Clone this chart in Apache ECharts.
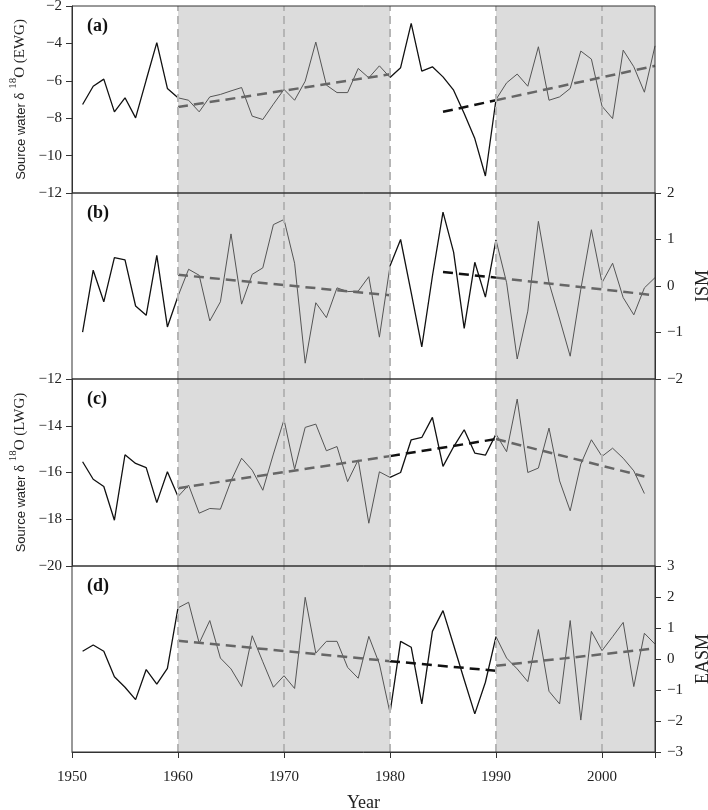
<!DOCTYPE html>
<html>
<head>
<meta charset="utf-8">
<script src="https://cdn.jsdelivr.net/npm/echarts@6/dist/echarts.min.js"></script>
<style>
  html, body { margin: 0; padding: 0; background: #fff; }
  #main { width: 708px; height: 810px; }
</style>
</head>
<body>
<div id="main"></div>
<script>
// years of the records
var years = [1951, 1952, 1953, 1954, 1955, 1956, 1957, 1958, 1959, 1960,
             1961, 1962, 1963, 1964, 1965, 1966, 1967, 1968, 1969, 1970,
             1971, 1972, 1973, 1974, 1975, 1976, 1977, 1978, 1979, 1980,
             1981, 1982, 1983, 1984, 1985, 1986, 1987, 1988, 1989, 1990,
             1991, 1992, 1993, 1994, 1995, 1996, 1997, 1998, 1999, 2000,
             2001, 2002, 2003, 2004, 2005];

// (a) source water d18O, EWG
var ewg = [-7.27, -6.29, -5.91, -7.66, -6.91, -7.98, -5.96, -3.96, -6.41, -6.91,
           -7.04, -7.66, -6.86, -6.73, -6.54, -6.36, -7.89, -8.07, -7.25, -6.46,
           -7.04, -6.02, -3.93, -6.23, -6.63, -6.63, -5.34, -5.84, -5.2, -5.82,
           -5.3, -2.93, -5.48, -5.25, -5.79, -6.5, -7.75, -9.09, -11.09, -7.0,
           -6.11, -5.64, -6.29, -4.18, -7.04, -6.86, -6.41, -4.41, -4.84, -7.36,
           -8.02, -4.36, -5.25, -6.61, -4.13];

// (b) ISM index
var ism = [-0.99, 0.34, -0.34, 0.61, 0.56, -0.43, -0.63, 0.66, -0.88, -0.22,
           0.36, 0.23, -0.75, -0.34, 1.12, -0.39, 0.25, 0.39, 1.32, 1.43,
           0.49, -1.66, -0.36, -0.68, -0.04, -0.12, -0.11, 0.2, -1.1, 0.43,
           1.0, -0.14, -1.31, 0.21, 1.59, 0.73, -0.91, 0.51, -0.24, 0.99,
           0.07, -1.57, -0.54, 1.39, 0.07, -0.71, -1.51, -0.07, 1.21, 0.07,
           0.49, -0.25, -0.62, -0.04, 0.18];

// (c) source water d18O, LWG (no 2005 value)
var lwg = [-15.54, -16.29, -16.6, -18.04, -15.24, -15.61, -15.79, -17.29, -15.97, -17.03,
           -16.54, -17.74, -17.54, -17.57, -16.36, -15.39, -15.9, -16.76, -15.21, -13.74,
           -15.86, -14.07, -13.93, -15.07, -14.89, -16.39, -15.46, -18.17, -15.97, -16.21,
           -16.0, -14.6, -14.5, -13.64, -15.74, -14.9, -14.17, -15.17, -15.26, -14.36,
           -15.11, -12.86, -16.0, -15.81, -14.1, -16.36, -17.64, -15.64, -14.6, -15.31,
           -14.96, -15.39, -15.93, -16.9, null];

// (d) EASM index
var easm = [0.25, 0.45, 0.25, -0.57, -0.91, -1.31, -0.34, -0.81, -0.3, 1.65,
            1.83, 0.51, 1.24, 0.03, -0.32, -0.89, 0.75, -0.09, -0.91, -0.54,
            -0.95, 1.99, 0.19, 0.57, 0.57, -0.27, -0.62, 0.73, -0.16, -1.74,
            0.57, 0.38, -1.45, 0.89, 1.56, 0.45, -0.67, -1.77, -0.75, 0.72,
            0.03, -0.32, -0.73, 0.95, -1.04, -1.45, 1.24, -1.97, 0.89, 0.27,
            0.72, 1.18, -0.89, 0.83, 0.48];

// linear trends: [start year, end year, start value, end value]
var ewgTrends = [[1960, 1980, -7.4, -5.65], [1985, 1990, -7.66, -7.04], [1990, 2005, -7.04, -5.2]];
var ismTrends = [[1960, 1980, 0.24, -0.2], [1985, 1990, 0.3, 0.18], [1990, 2005, 0.18, -0.2]];
var lwgTrends = [[1960, 1980, -16.67, -15.3], [1980, 1990, -15.3, -14.57], [1990, 2004, -14.57, -16.17]];
var easmTrends = [[1960, 1980, 0.59, -0.07], [1980, 1990, -0.07, -0.38], [1990, 2005, -0.22, 0.34]];

var shadeSpans = [[1960, 1980], [1990, 2005]];
var dashYears = [1960, 1970, 1980, 1990, 2000];
var segments = [[1951, 1960], [1960, 1980], [1980, 1990], [1990, 2005]];

var serif = '"Liberation Serif", "DejaVu Serif", serif';
var sans = '"Liberation Sans", Arial, sans-serif';

function inShade(a, b) {
    return shadeSpans.some(function (s) { return a >= s[0] && b <= s[1]; });
}
function pick(vals, from, to) {
    var out = [];
    for (var i = 0; i < years.length; i++) {
        if (years[i] >= from && years[i] <= to && vals[i] != null) out.push([years[i], vals[i]]);
    }
    return out;
}
function minus(v) { return String(v).replace('-', '\u2212'); }

var panels = [
    {vals: ewg, trends: ewgTrends, pos: 'left', min: -12, max: -2, interval: 2, label: '(a)',
     name: '{s|Source water }{d|\u03b4 }{u|18}{d|O (EWG)}'},
    {vals: ism, trends: ismTrends, pos: 'right', min: -2, max: 2, interval: 1, label: '(b)', name: 'ISM'},
    {vals: lwg, trends: lwgTrends, pos: 'left', min: -20, max: -12, interval: 2, label: '(c)',
     name: '{s|Source water }{d|\u03b4 }{u|18}{d|O (LWG)}'},
    {vals: easm, trends: easmTrends, pos: 'right', min: -3, max: 3, interval: 1, label: '(d)', name: 'EASM'}
];
var gridTops = [6, 193, 379, 566];
var gridHeights = [187, 186, 187, 186];

var chart = echarts.init(document.getElementById('main'));
var grids = [], xAxes = [], yAxes = [], series = [], graphics = [];

panels.forEach(function (p, i) {
    var last = i === panels.length - 1;
    grids.push({left: 72, right: 53, top: gridTops[i], height: gridHeights[i],
                outerBoundsMode: 'none', containLabel: false,
                show: true, borderColor: '#333', borderWidth: 1,
                backgroundColor: 'rgba(0,0,0,0)', z: 10});
    xAxes.push({
        type: 'value', gridIndex: i, min: 1950, max: 2005, interval: 10,
        axisLine: {show: last, onZero: false, lineStyle: {color: '#333'}},
        axisTick: {show: last, length: 6, lineStyle: {color: '#333'}},
        axisLabel: {show: last, fontFamily: serif, fontSize: 15, color: '#222', margin: 18,
                    formatter: function (v) { return v % 10 === 0 ? String(v) : ''; }},
        splitLine: {show: false},
        name: last ? 'Year' : '', nameLocation: 'middle', nameGap: 42,
        nameTextStyle: {fontFamily: serif, fontSize: 18, color: '#222'}
    });
    var left = p.pos === 'left';
    yAxes.push({
        type: 'value', gridIndex: i, position: p.pos, min: p.min, max: p.max, interval: p.interval,
        axisLine: {show: true, onZero: false, lineStyle: {color: '#333'}},
        axisTick: {show: true, length: 6, lineStyle: {color: '#333'}},
        axisLabel: {fontFamily: serif, fontSize: 15, color: '#222', margin: left ? 10 : 12, formatter: minus},
        splitLine: {show: false},
        name: p.name, nameLocation: 'middle', nameRotate: 90, nameGap: left ? 42 : 27,
        nameTextStyle: left ? {
            rich: {
                s: {fontFamily: sans, fontSize: 13, color: '#222', lineHeight: 20, verticalAlign: 'bottom'},
                d: {fontFamily: serif, fontSize: 15, color: '#222', lineHeight: 20, verticalAlign: 'bottom'},
                u: {fontFamily: serif, fontSize: 11, color: '#222', lineHeight: 20, verticalAlign: 'top'}
            }
        } : {fontFamily: serif, fontSize: 18, color: '#222'}
    });

    // shading and dashed year markers
    series.push({
        type: 'line', xAxisIndex: i, yAxisIndex: i, data: [], z: 1, silent: true,
        markArea: {silent: true, itemStyle: {color: '#dcdcdc'},
                   data: shadeSpans.map(function (s) { return [{xAxis: s[0]}, {xAxis: s[1]}]; })},
        markLine: {silent: true, symbol: 'none', label: {show: false},
                   lineStyle: {color: '#b5b5b5', width: 2, type: [8, 5]},
                   data: dashYears.map(function (y) { return {xAxis: y}; })}
    });

    segments.forEach(function (s) {
        var grey = inShade(s[0], s[1]);
        series.push({
            type: 'line', xAxisIndex: i, yAxisIndex: i, data: pick(p.vals, s[0], s[1]),
            symbol: 'none', z: 3, silent: true,
            lineStyle: {color: grey ? '#555' : '#111', width: grey ? 1 : 1.3}
        });
    });

    p.trends.forEach(function (t) {
        var grey = inShade(t[0], t[1]);
        series.push({
            type: 'line', xAxisIndex: i, yAxisIndex: i, symbol: 'none', z: 4, silent: true,
            data: [[t[0], t[2]], [t[1], t[3]]],
            lineStyle: {color: grey ? '#666' : '#111', width: 2.5, type: [10, 6]}
        });
    });

    graphics.push({type: 'text', left: 87, top: gridTops[i] + 11,
                   style: {text: p.label, font: 'bold 18px ' + serif, fill: '#111'}});
});

chart.setOption({
    animation: false,
    backgroundColor: '#fff',
    grid: grids,
    xAxis: xAxes,
    yAxis: yAxes,
    series: series,
    graphic: graphics
});
</script>
</body>
</html>
